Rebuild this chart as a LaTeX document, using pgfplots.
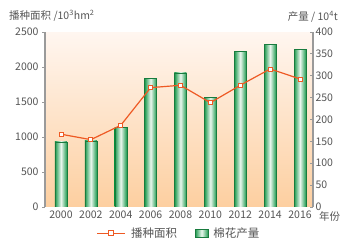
\documentclass[border=0pt]{standalone}
\usepackage{pgfplots}
\pgfplotsset{compat=1.18}
\usepackage{fontspec}
\setmainfont{Noto Sans CJK SC}
\definecolor{txt}{HTML}{555555}
\definecolor{bgtop}{HTML}{FFF6F0}
\definecolor{bgbot}{HTML}{FDCFA0}
\definecolor{bardark}{HTML}{1E9A4E}
\definecolor{barlight}{HTML}{EAF7EE}
\definecolor{linec}{HTML}{EE5A24}
\definecolor{axgray}{HTML}{9A9A9A}
\newcommand{\tf}{\fontsize{10.5bp}{12bp}\selectfont}
\newcommand{\lf}{\fontsize{11.5bp}{13bp}\selectfont}
\begin{document}
\begin{tikzpicture}
\useasboundingbox (0,0) rectangle (340bp,240bp);
\pgfplotsset{
  common/.style={
    at={(45bp,33bp)}, anchor=south west,
    scale only axis, width=268bp, height=175bp,
    xmin=1998.93, xmax=2016.87, ymin=0,
    /pgf/number format/assume math mode=true,
    /pgf/number format/1000 sep={},
    tick label style={font=\tf, text=txt},
    y axis line style={draw=axgray, line width=1.2bp},
    ytick style={draw=axgray, line width=0.8bp},
    major tick length=3bp,
  },
  cyl/.style={ybar, bar width=12bp, bar shift=0pt, draw=bardark!80!black, line width=0.3bp,
    left color=bardark, right color=bardark, middle color=barlight, forget plot},
}
\begin{axis}[common,
  ymax=400, ytick={0,50,...,400},
  axis y line*=right, tick align=inside,
  axis x line*=bottom, x axis line style={draw=none},
  xtick={2000,2002,...,2016}, xtick style={draw=none},
  axis background/.style={top color=bgtop, bottom color=bgbot},
  yticklabel style={xshift=-1bp},
]
\addplot[cyl] coordinates {(2000,149)};
\addplot[cyl] coordinates {(2002,151)};
\addplot[cyl] coordinates {(2004,182)};
\addplot[cyl] coordinates {(2006,294)};
\addplot[cyl] coordinates {(2008,307)};
\addplot[cyl] coordinates {(2010,250)};
\addplot[cyl] coordinates {(2012,356)};
\addplot[cyl] coordinates {(2014,372)};
\addplot[cyl] coordinates {(2016,361)};
\end{axis}
\begin{axis}[common,
  ymax=2500, ytick={0,500,...,2500},
  axis y line*=left, tick align=outside,
  axis x line=none,
  legend style={at={(0.5,-0.15)}, anchor=center, draw=none, fill=none,
    font=\lf, text=txt, legend columns=2,
    /tikz/every odd column/.append style={column sep=3bp},
    /tikz/every even column/.append style={column sep=16bp}},
  legend cell align=left,
]
\addplot[linec, line width=1.2bp, mark=square*, mark size=2bp,
  mark options={fill=white, draw=linec, line width=0.8bp},
  legend image code/.code={
    \draw[linec, line width=1.3bp] (0bp,0bp) -- (28bp,0bp);
    \draw[linec, fill=white, line width=0.9bp] (11.5bp,-2.5bp) rectangle (16.5bp,2.5bp);
  }]
  coordinates {(2000,1040) (2002,962) (2004,1167) (2006,1705) (2008,1739)
               (2010,1490) (2012,1739) (2014,1972) (2016,1829)};
\addlegendentry{播种面积}
\addlegendimage{legend image code/.code={
  \draw[draw=bardark!80!black, left color=bardark, right color=bardark, middle color=barlight, line width=0.3bp] (2bp,-4bp) rectangle (15bp,4bp);}}
\addlegendentry{棉花产量}
\end{axis}
\node[anchor=west, text=txt, font=\tf, inner sep=0] at (9bp,224bp) {播种面积 /10\textsuperscript{3}hm\textsuperscript{2}};
\node[anchor=east, text=txt, font=\tf, inner sep=0] at (338bp,223bp) {产量 / 10\textsuperscript{4}t};
\node[anchor=west, text=txt, font=\tf, inner sep=0] at (319bp,23.5bp) {年份};
\end{tikzpicture}
\end{document}
